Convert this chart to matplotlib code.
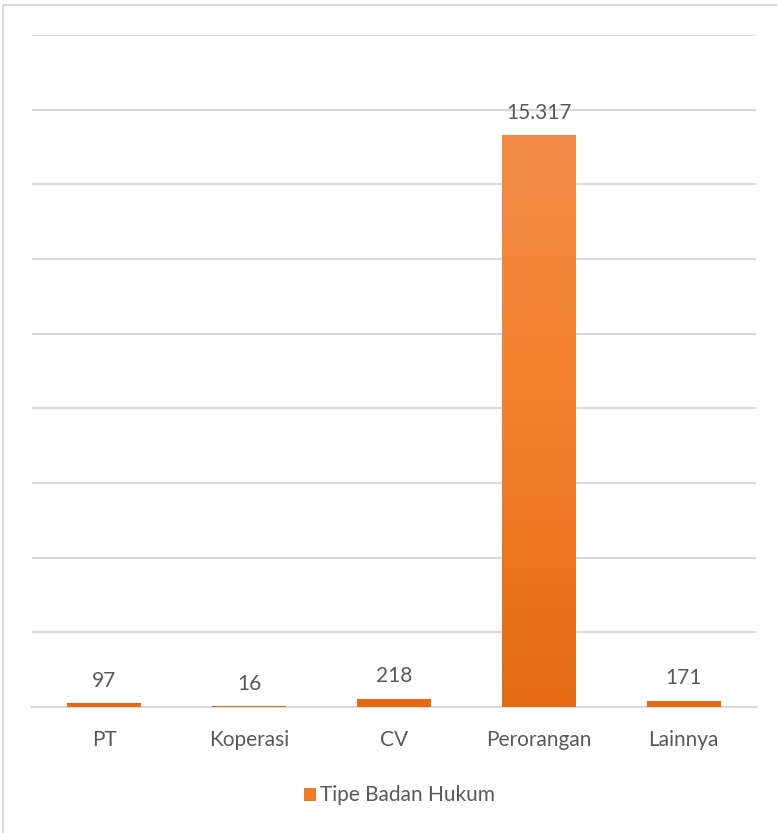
import matplotlib
matplotlib.use("Agg")
import matplotlib.pyplot as plt
import numpy as np
from matplotlib.colors import LinearSegmentedColormap
from matplotlib.patches import Rectangle

categories = ["PT", "Koperasi", "CV", "Perorangan", "Lainnya"]
values = [97, 16, 218, 15317, 171]
series_name = "Tipe Badan Hukum"

plt.rcParams['font.family'] = ['Lato', 'DejaVu Sans']

W, H = 777, 833
fig = plt.figure(figsize=(W/100, H/100), dpi=100)
ax = fig.add_axes([32/W, 1-707/H, (756-32)/W, (707-35)/H])

ymax = 18000
ax.set_ylim(0, ymax)
ax.set_xlim(-0.5, len(categories)-0.5)

cmap = LinearSegmentedColormap.from_list("og", ["#E46A14", "#F6832F", "#F08E55"])
grad = np.linspace(0, 1, 256).reshape(-1, 1)

x = np.arange(len(categories))
bars = ax.bar(x, values, width=0.51, color="#F07D2E", zorder=3)
for b in bars:
    bx, by, bw, bh = b.get_x(), b.get_y(), b.get_width(), b.get_height()
    im = ax.imshow(grad, cmap=cmap, aspect='auto', origin='lower',
                   extent=[bx, bx+bw, 0, ymax], zorder=4)
    im.set_clip_path(b)

for xi, v in zip(x, values):
    ax.annotate(f"{v:,}".replace(",", "."), (xi, v), xytext=(0, 9),
                textcoords="offset points", ha="center", va="bottom",
                fontsize=15, color="#595959")

ax.set_yticks(np.arange(0, ymax+1, 2000))
ax.yaxis.grid(True, color="#D9D9D9", linewidth=1.5)
ax.set_axisbelow(True)
ax.tick_params(axis='y', left=False, labelleft=False)
ax.tick_params(axis='x', bottom=False, labelsize=15, labelcolor="#595959", pad=13)
ax.set_xticks(x)
ax.set_xticklabels(categories)
for s in ["top", "right", "left"]:
    ax.spines[s].set_visible(False)
ax.spines["bottom"].set_color("#D9D9D9")
ax.spines["bottom"].set_linewidth(1.5)

# legend
fig.patches.append(Rectangle((304/W, 1-801/H), 12/W, 13/H, transform=fig.transFigure,
                             facecolor="#EE7A2C", edgecolor="none"))
fig.text(320/W, 1-795/H, series_name, fontsize=15, color="#595959", va="center", ha="left")

# outer border
fig.patches.append(Rectangle((3/W, -0.01), 1.0, 1-5/H+0.01, transform=fig.transFigure,
                             facecolor="none", edgecolor="#D9D9D9", linewidth=1.5))

fig.savefig("out.png", dpi=100)
